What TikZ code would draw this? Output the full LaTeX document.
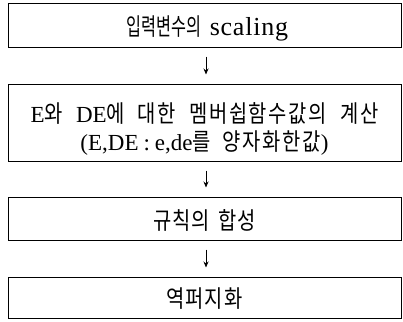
\documentclass[tikz,border=0pt]{standalone}
\usepackage{fontspec}
\setmainfont{Liberation Serif}
\newfontfamily\lsp[LetterSpace=3]{Liberation Serif}
\newfontfamily\kr[Scale=1.04,FakeStretch=0.68]{Noto Sans CJK KR}
\newfontfamily\krs[Scale=1.04,FakeStretch=0.83,LetterSpace=4]{Noto Sans CJK KR}
\newfontfamily\krw[Scale=1.04,FakeStretch=0.83,LetterSpace=7]{Noto Sans CJK KR}
\protected\def\widesp{\spaceskip 8pt\relax}
\protected\def\widersp{\spaceskip 13pt\relax}
\usetikzlibrary{arrows.meta}
\begin{document}
\begin{tikzpicture}[x=1pt,y=-1pt,
  box/.style={draw,line width=1pt,minimum width=393pt,inner sep=0pt},
  txt/.style={inner sep=0pt,align=center,font=\fontsize{23}{28}\selectfont\widesp},
  arr/.style={line width=0.9pt,-{Stealth[length=6pt,width=5pt]}}]
\useasboundingbox (0,0) rectangle (403,321);
\node[box,minimum height=43pt] (b1) at (204.5,25.5) {};
\node[box,minimum height=77pt] (b2) at (204.5,122.5) {};
\node[box,minimum height=43pt] (b3) at (204.5,218.5) {};
\node[box,minimum height=41pt] (b4) at (204.5,297.5) {};
\node[txt] (t1) at ([xshift=3pt,yshift=-3pt]b1.center) {{\kr 입력변수의} {\fontsize{26}{28}\lsp scaling}};
\node[txt] (t2) at ([yshift=-6pt]b2.center) {{\widersp E{\krw 와} DE{\krw 에} {\krw 대한} {\krw 멤버쉽함수값의} {\krw 계산}}\\{\spaceskip 12pt\relax(E,DE\hspace{5pt}:\hspace{5pt}e,de{\krw 를} {\krw 양자화한값})}};
\node[txt] (t3) at ([yshift=-2pt]b3.center) {{\krs 규칙의} {\krs 합성}};
\node[txt] (t4) at ([yshift=-1pt]b4.center) {{\krs 역퍼지화}};
\draw[arr,shorten <=9pt,shorten >=9pt] ([xshift=1.5pt]b1.south) -- ([xshift=1.5pt]b2.north);
\draw[arr,shorten <=9pt,shorten >=9pt] ([xshift=1.5pt]b2.south) -- ([xshift=1.5pt]b3.north);
\draw[arr,shorten <=9pt,shorten >=9pt] ([xshift=1.5pt]b3.south) -- ([xshift=1.5pt]b4.north);
\end{tikzpicture}
\end{document}
